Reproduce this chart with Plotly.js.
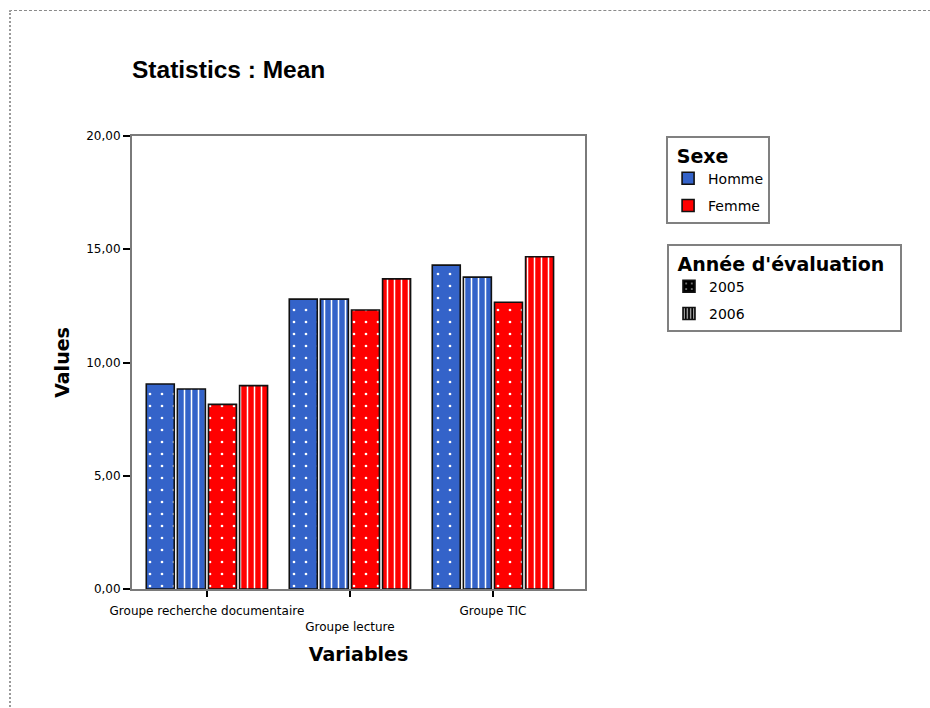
<!DOCTYPE html>
<html>
<head>
<meta charset="utf-8">
<script src="https://cdn.plot.ly/plotly-3.0.1.min.js"></script>
<style>
  html, body { margin: 0; padding: 0; background: #fff; }
  #wrap { position: relative; width: 930px; height: 708px; overflow: hidden; }
  #chart { position: absolute; left: 0; top: 0; width: 930px; height: 708px; }
  #frame { position: absolute; left: 9px; top: 10px; width: 940px; height: 720px;
           border-top: 1px dashed #8a8a8a; border-left: 2px dotted #9a9a9a; pointer-events: none; }
</style>
</head>
<body>
<div id="wrap">
  <div id="chart"></div>
  <div id="frame"></div>
</div>
<script>
// ---- data ----
const categories = ['Groupe recherche documentaire', 'Groupe lecture', 'Groupe TIC'];
const tickLabels = ['Groupe recherche documentaire', '<br>Groupe lecture', 'Groupe TIC'];
const hommeY2005 = [9.05, 12.80, 14.30];
const hommeY2006 = [8.83, 12.80, 13.77];
const femmeY2005 = [8.15, 12.32, 12.66];
const femmeY2006 = [8.98, 13.69, 14.67];
const sexeLabels = ['Homme', 'Femme'];
const anneeLabels = ['2005', '2006'];
const yTickVals = [0, 5, 10, 15, 20];
const yTickText = ['0,00', '5,00', '10,00', '15,00', '20,00'];

// ---- styles ----
const BLUE = '#3463C9';
const RED = '#FF0000';
const dotPat = (bg) => ({ shape: '.', bgcolor: bg, fgcolor: '#ffffff', size: 12, solidity: 0.04, fillmode: 'replace' });
const strPat = (bg) => ({ shape: '|', bgcolor: bg, fgcolor: '#ffffff', size: 7, solidity: 0.22, fillmode: 'replace' });
const outline = { color: '#111', width: 1.6 };

function barTrace(y, color, pat, name) {
  return {
    type: 'bar', x: categories, y: y, name: name, showlegend: false,
    marker: { color: color, pattern: pat, line: outline },
    hoverinfo: 'skip'
  };
}

const traces = [
  barTrace(hommeY2005, BLUE, dotPat(BLUE), 'Homme 2005'),
  barTrace(hommeY2006, BLUE, strPat(BLUE), 'Homme 2006'),
  barTrace(femmeY2005, RED, dotPat(RED), 'Femme 2005'),
  barTrace(femmeY2006, RED, strPat(RED), 'Femme 2006'),
];

// legend-only entries on hidden axes
function legendTrace(name, marker, legend) {
  return {
    type: 'bar', x: [categories[0]], y: [null], name: name, legend: legend, legendgroup: 'g_' + name,
    xaxis: 'x2', yaxis: 'y2', marker: marker, showlegend: true
  };
}
traces.push(legendTrace(sexeLabels[0], { color: BLUE, line: outline }, 'legend'));
traces.push(legendTrace(sexeLabels[1], { color: RED, line: outline }, 'legend'));
traces.push(legendTrace(anneeLabels[0], { color: '#000', pattern: { shape: '.', bgcolor: '#000', fgcolor: '#fff', size: 7, solidity: 0.06, fillmode: 'replace' }, line: outline }, 'legend2'));
traces.push(legendTrace(anneeLabels[1], { color: '#000', pattern: { shape: '|', bgcolor: '#000', fgcolor: '#fff', size: 4, solidity: 0.3, fillmode: 'replace' }, line: outline }, 'legend2'));

const FONT = 'DejaVu Sans, Verdana, sans-serif';

const layout = {
  width: 930, height: 708,
  paper_bgcolor: '#fff', plot_bgcolor: '#fff',
  margin: { l: 132, r: 345, t: 136, b: 119 },
  barmode: 'group', bargap: 0.13, bargroupgap: 0.1,
  font: { family: FONT, color: '#000' },
  title: {
    text: 'Statistics : Mean',
    font: { family: 'Liberation Sans, Arial, sans-serif', size: 24.5, weight: 'bold', color: '#000' },
    xref: 'paper', x: 0, xanchor: 'left',
    yref: 'container', y: 0.902, yanchor: 'middle'
  },
  xaxis: {
    type: 'category',
    range: [-0.524, 2.644],
    tickmode: 'array', tickvals: categories, ticktext: tickLabels,
    tickangle: 0,
    ticks: 'outside', ticklen: 6, tickwidth: 2, tickcolor: '#000',
    ticklabelstandoff: 4,
    tickfont: { family: FONT, size: 12, color: '#000' },
    showline: true, linecolor: '#7a7a7a', linewidth: 2, mirror: true,
    showgrid: false, zeroline: false,
    title: { text: 'Variables', font: { family: FONT, size: 19, weight: 'bold', color: '#000' }, standoff: 15 }
  },
  yaxis: {
    range: [0, 20],
    tickmode: 'array', tickvals: yTickVals, ticktext: yTickText,
    ticks: 'outside', ticklen: 7, tickwidth: 2, tickcolor: '#000',
    tickfont: { family: FONT, size: 12, color: '#000' },
    showline: true, linecolor: '#7a7a7a', linewidth: 2, mirror: true,
    showgrid: false, zeroline: false,
    title: { text: 'Values', font: { family: FONT, size: 19, weight: 'bold', color: '#000' }, standoff: 12 }
  },
  xaxis2: { domain: [0.999, 1], anchor: 'y2', visible: false, type: 'category' },
  yaxis2: { domain: [0.999, 1], anchor: 'x2', visible: false },
  legend: {
    x: 1.179, xanchor: 'left', y: 1.0, yanchor: 'top',
    bordercolor: '#808080', borderwidth: 2, bgcolor: '#fff',
    title: { text: '&nbsp;Sexe', font: { family: FONT, size: 19, weight: 'bold', color: '#000' } },
    font: { family: FONT, size: 14, color: '#000' },
    tracegroupgap: 6,
    itemclick: false
  },
  legend2: {
    x: 1.181, xanchor: 'left', y: 0.7616, yanchor: 'top',
    bordercolor: '#808080', borderwidth: 2, bgcolor: '#fff',
    title: { text: "&nbsp;Année d'évaluation&nbsp;&nbsp;", font: { family: FONT, size: 19, weight: 'bold', color: '#000' } },
    font: { family: FONT, size: 14, color: '#000' },
    tracegroupgap: 6,
    itemclick: false
  },
  showlegend: true
};

Plotly.newPlot('chart', traces, layout, { staticPlot: true, displayModeBar: false });
</script>
</body>
</html>
